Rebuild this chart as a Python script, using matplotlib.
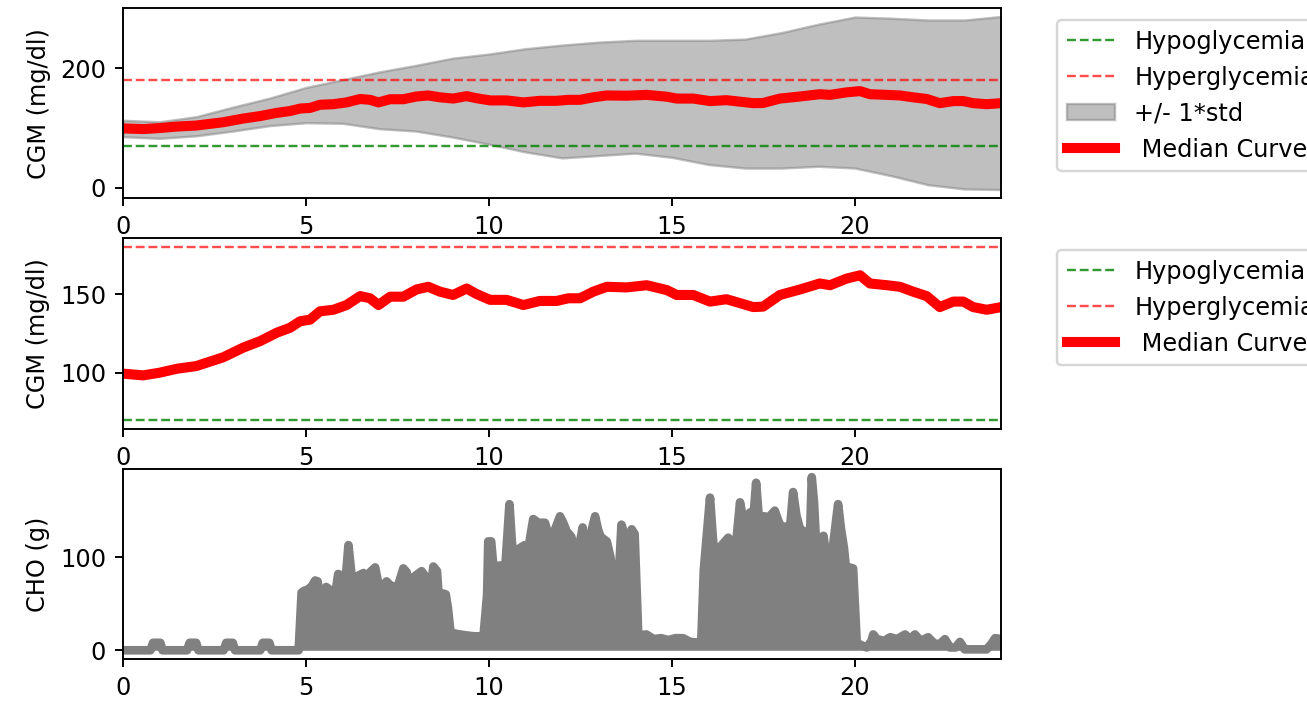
#! /usr/bin/python
# -*- coding: utf-8 -*-

import numpy as np
import matplotlib
matplotlib.use('Agg')
import matplotlib.pyplot as plt

# median CGM curve (hours, mg/dl)
med_t = [0.0, 0.55, 1.0, 1.47, 2.0, 2.74, 3.29, 3.74, 4.2, 4.56, 4.84, 5.11, 5.38, 5.75,
         6.11, 6.48, 6.75, 6.98, 7.3, 7.66, 8.02, 8.34, 8.66, 9.02, 9.39, 9.66, 10.03,
         10.48, 10.94, 11.39, 11.85, 12.17, 12.49, 12.85, 13.22, 13.76, 14.31, 14.86,
         15.13, 15.58, 16.04, 16.49, 16.86, 17.22, 17.49, 17.95, 18.5, 19.04, 19.32,
         19.77, 20.14, 20.41, 20.87, 21.23, 21.59, 21.96, 22.32, 22.69, 22.96, 23.23,
         23.6, 24.0]
med_v = [99.4, 98.3, 100, 102.5, 104.2, 109.8, 116, 120, 125.4, 128.5, 132.7, 133.7, 139, 140,
         143, 148.7, 147.3, 143, 148.3, 148.3, 152.9, 154.6, 151.5, 149.4, 153.5, 150, 146.3,
         146.3, 143, 145.6, 145.6, 147.3, 147.3, 151.5, 154.6, 154.2, 155.6, 152.5,
         149.4, 149.4, 145.2, 146.7, 144.2, 141.7, 142, 149.4, 152.9, 156.7, 155.6,
         159.8, 161.9, 156.7, 155.6, 154.6, 151.5, 148.7, 141.7, 145.2, 145.2, 141.7,
         140, 141.7]

# +/- 1*std band
band_t = [0, 1, 2, 3, 4, 5, 6, 7, 8, 9, 10, 11, 12, 13, 14, 15, 16, 17, 18, 19, 20, 21, 22, 23, 24]
band_hi = [113, 110.5, 119, 135, 150, 168, 181, 194, 205, 217, 224, 233, 239, 244, 247, 247,
           247, 249, 260, 274, 286, 284, 281, 281, 287]
band_lo = [85.6, 82.8, 87, 95, 104, 109, 108, 99, 95, 85, 73, 60, 50, 54, 58, 51,
           39, 33, 33, 36, 33, 20, 5, -2, -3]

# carbohydrate intake (hours, g)
cho_t = [0.0, 0.75, 0.82, 1.02, 1.08, 1.75, 1.82, 2.0, 2.06, 2.75, 2.82, 3.0, 3.06, 3.75, 3.82,
         4.0, 4.06, 4.8,
         4.88, 4.95, 5.05, 5.16, 5.25, 5.32, 5.38, 5.45, 5.55, 5.62, 5.70, 5.78, 5.88, 5.98,
         6.05, 6.16, 6.26, 6.33, 6.42, 6.57, 6.66, 6.78, 6.89, 6.96, 7.02, 7.12, 7.20, 7.30,
         7.42, 7.52, 7.66, 7.75, 7.85, 7.93, 8.02, 8.16, 8.25, 8.32, 8.40, 8.48, 8.58, 8.64,
         8.75, 8.82, 8.88, 8.95, 9.2, 9.38, 9.6, 9.85,
         9.95, 9.98, 10.06, 10.12, 10.3, 10.45, 10.56, 10.62, 10.68, 10.78, 10.85, 10.98,
         11.05, 11.12, 11.21, 11.35, 11.53, 11.62, 11.75, 11.94, 12.02, 12.12, 12.25, 12.35,
         12.45, 12.56, 12.62, 12.68, 12.78, 12.90, 12.98, 13.05, 13.22, 13.32, 13.38, 13.55,
         13.62, 13.70, 13.78, 13.90, 13.98, 14.04, 14.08, 14.3, 14.5, 14.7, 14.9, 15.1, 15.3,
         15.5, 15.8,
         15.87, 16.04, 16.12, 16.18, 16.34, 16.54, 16.62, 16.70, 16.86, 16.95, 17.05, 17.13,
         17.22, 17.30, 17.38, 17.45, 17.50, 17.65, 17.81, 17.90, 18.0, 18.09, 18.18, 18.31,
         18.40, 18.50, 18.61, 18.70, 18.76, 18.82, 18.88, 18.95, 19.05, 19.14, 19.22, 19.28,
         19.41, 19.54, 19.62, 19.70, 19.75, 19.95, 20.05,
         20.2, 20.32, 20.45, 20.5, 20.6, 20.8, 20.96, 21.15, 21.37, 21.5, 21.64, 21.8, 22.0,
         22.15, 22.3, 22.46, 22.6, 22.75, 22.87, 23.0, 23.6, 23.75, 23.83, 24.0]
cho_v = [0, 0, 8, 8, 0, 0, 8, 8, 0, 0, 8, 8, 0, 0, 8,
         8, 0, 0,
         62, 64, 65, 69, 75, 74, 50, 52, 68, 66, 50, 55, 82, 80,
         60, 113, 75, 55, 80, 83, 80, 85, 89, 75, 64, 70, 74, 70,
         68, 70, 88, 84, 65, 78, 81, 85, 80, 62, 60, 90, 85, 50,
         61, 60, 45, 19, 17, 16, 15, 15,
         60, 117, 117, 90, 91, 92, 157, 120, 90, 100, 110, 113,
         93, 120, 141, 137, 137, 125, 124, 144, 138, 128, 122, 106,
         108, 132, 100, 83, 125, 144, 130, 122, 117, 100, 81, 81,
         135, 125, 90, 130, 125, 60, 16, 17, 12, 13, 11, 13, 13,
         9, 8,
         86, 164, 120, 95, 112, 121, 105, 93, 159, 140, 130, 148,
         140, 180, 140, 110, 144, 143, 150, 140, 130, 133, 110, 170,
         145, 130, 128, 115, 105, 186, 160, 106, 115, 123, 100, 85,
         115, 157, 130, 110, 90, 88, 8,
         5, 3, 10, 17, 12, 10, 14, 12, 17, 12, 17, 10, 14,
         8, 6, 12, 3, 3, 9, 1, 1, 8, 13, 12]

hypo = 70
hyper = 180


def add_limits(ax):
    ax.plot([0, 24], [hypo, hypo], '--', color='g', lw=1, alpha=0.8, label='Hypoglycemia')
    ax.plot([0, 24], [hyper, hyper], '--', color='r', lw=1, alpha=0.7, label='Hyperglycemia')


def main():
    dpi = 173
    fig, axes = plt.subplots(3, 1, figsize=(1307.2 / dpi, 701.2 / dpi), dpi=dpi)
    ax1, ax2, ax3 = axes

    add_limits(ax1)
    ax1.fill_between(band_t, band_lo, band_hi, color='gray', alpha=0.5, label='+/- 1*std')
    ax1.plot(med_t, med_v, color='r', lw=4.2, label=' Median Curve')
    ax1.set_yticks([0, 200])
    ax1.set_ylabel('CGM (mg/dl)')
    ax1.legend(loc='upper left', bbox_to_anchor=(1.05, 1))

    add_limits(ax2)
    ax2.plot(med_t, med_v, color='r', lw=4.2, label=' Median Curve')
    ax2.set_yticks([100, 150])
    ax2.set_ylabel('CGM (mg/dl)')
    ax2.legend(loc='upper left', bbox_to_anchor=(1.05, 1))

    ax3.fill_between(cho_t, cho_v, 0, color='gray', lw=0)
    ax3.plot(cho_t, cho_v, color='gray', lw=3.6)
    ax3.set_yticks([0, 100])
    ax3.set_ylabel('CHO (g)')

    for ax in axes:
        ax.set_xlim(0, 24)
        ax.set_xticks([0, 5, 10, 15, 20])

    fig.subplots_adjust(left=0.0941, right=0.766, top=0.9886, bottom=0.060, hspace=0.21)
    fig.savefig('out.png', dpi=dpi)


if __name__ == '__main__':
    main()
